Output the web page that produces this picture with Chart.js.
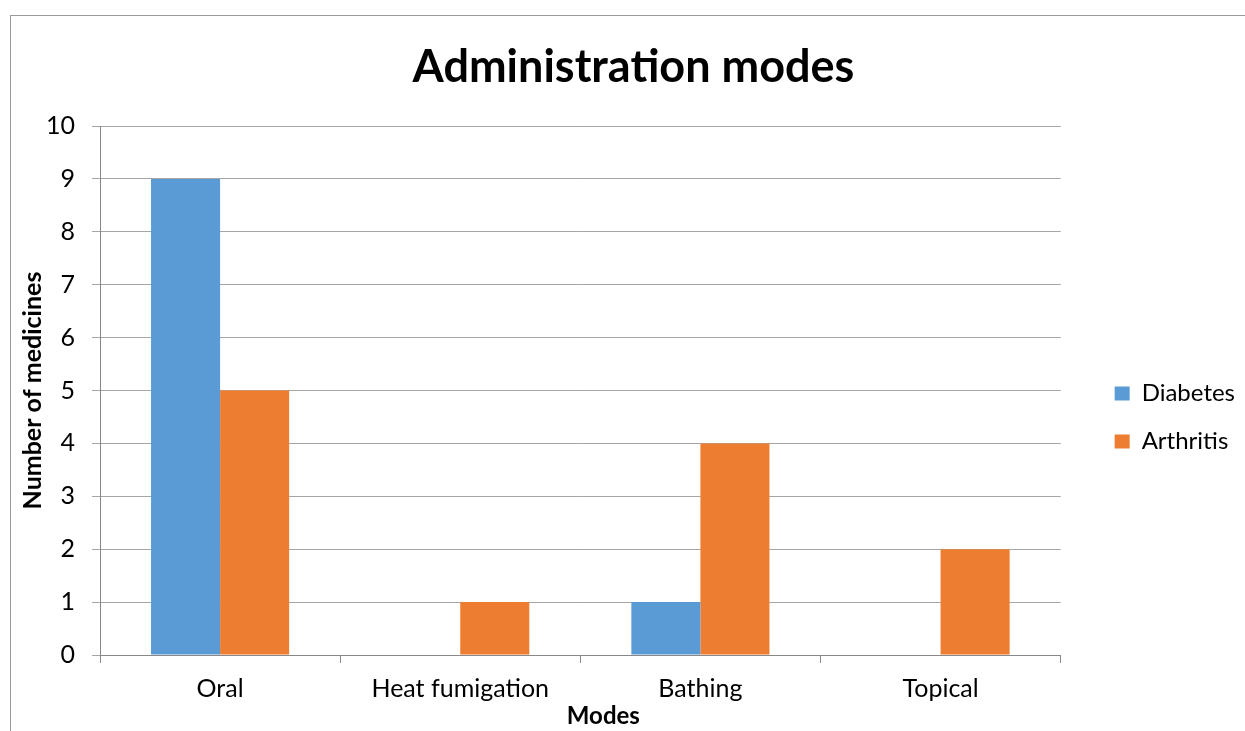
<!DOCTYPE html>
<html>
<head>
<meta charset="utf-8">
<script src="https://cdn.jsdelivr.net/npm/chart.js@4/dist/chart.umd.min.js"></script>
<style>
  html, body { margin: 0; padding: 0; background: #fff; overflow: hidden; }
  #wrap { position: relative; width: 1245px; height: 731px; }
  #frame { position: absolute; left: 10px; top: 15px; width: 1400px; height: 900px;
           border-top: 1px solid #9a9a9a; border-left: 1px solid #9a9a9a; }
  canvas { position: absolute; left: 0; top: 0; }
</style>
</head>
<body>
<div id="wrap">
  <div id="frame"></div>
  <canvas id="c" width="1245" height="731"></canvas>
</div>
<script>
const categories = ['Oral', 'Heat fumigation', 'Bathing', 'Topical'];
const diabetes = [9, 0, 1, 0];
const arthritis = [5, 1, 4, 2];
const seriesNames = ['Diabetes', 'Arthritis'];
const yTicks = { min: 0, max: 10, step: 1 };
const titleText = 'Administration modes';
const xTitle = 'Modes';
const yTitle = 'Number of medicines';

const FONT = 'Lato, "Open Sans", sans-serif';

new Chart(document.getElementById('c'), {
  type: 'bar',
  data: {
    labels: categories,
    datasets: [
      { label: seriesNames[0], data: diabetes, backgroundColor: '#5B9BD5', borderWidth: 0 },
      { label: seriesNames[1], data: arthritis, backgroundColor: '#ED7D31', borderWidth: 0 }
    ]
  },
  options: {
    responsive: false,
    animation: false,
    devicePixelRatio: 1,
    categoryPercentage: 0.575,
    barPercentage: 1,
    layout: { padding: { left: 22, right: 0, top: 0, bottom: 0 } },
    plugins: {
      title: {
        display: true, text: titleText, color: '#000',
        font: { family: FONT, size: 45, weight: 'bold' },
        padding: { top: 40, bottom: 32 }
      },
      legend: {
        position: 'right',
        title: { display: true, text: ' ', font: { family: FONT, size: 20 }, padding: 40 },
        labels: {
          color: '#000', font: { family: FONT, size: 24 },
          boxWidth: 15, boxHeight: 14, padding: 24
        }
      },
      tooltip: { enabled: false }
    },
    scales: {
      x: {
        grid: { display: true, drawOnChartArea: false, drawTicks: true, tickLength: 8, color: '#888', offset: true },
        border: { display: true, color: '#888', width: 1 },
        ticks: { color: '#000', font: { family: FONT, size: 25 }, padding: 11, maxRotation: 0 },
        title: { display: true, text: xTitle, color: '#000', font: { family: FONT, size: 24, weight: 'bold' }, padding: { top: 0, bottom: 0 } },
        afterFit(s) { s.height = 76; },
        afterUpdate(s) {
          if (!s._shifted) {
            const orig = s.drawTitle;
            s.drawTitle = function () {
              this.ctx.save();
              this.ctx.translate(23, 0);
              orig.call(this);
              this.ctx.restore();
            };
            s._shifted = true;
          }
        }
      },
      y: {
        min: yTicks.min, max: yTicks.max,
        grid: { color: '#a6a6a6', tickLength: 8, drawTicks: true },
        border: { display: true, color: '#888', width: 1 },
        ticks: { stepSize: yTicks.step, color: '#000', font: { family: FONT, size: 25 }, padding: 17 },
        title: { display: true, text: yTitle, color: '#000', font: { family: FONT, size: 25, weight: 'bold' }, padding: { top: -4, bottom: 0 } },
        afterFit(s) { s.width = 78; }
      },
      yR: {
        type: 'linear', position: 'right', display: true,
        grid: { display: false }, border: { display: false }, ticks: { display: false },
        afterFit(s) { s.width = 30; }
      }
    }
  }
});
</script>
</body>
</html>
